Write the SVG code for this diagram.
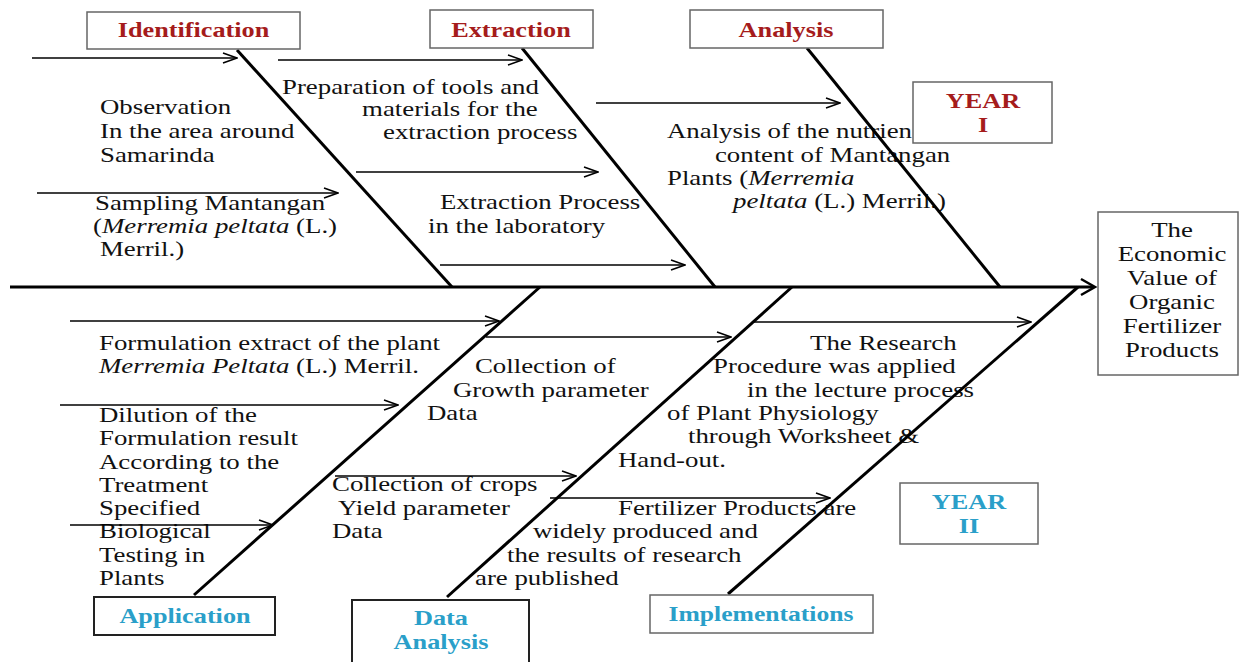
<svg xmlns="http://www.w3.org/2000/svg" width="1239" height="662" viewBox="0 0 1239 662">
<style>
.t{font-family:"Liberation Serif","Times New Roman",serif;font-size:22px;fill:#111}
.b{font-family:"Liberation Serif","Times New Roman",serif;font-size:21px;font-weight:bold;text-anchor:middle}
.red{fill:#a51c1c}
.blue{fill:#2a9fc9}
.c{text-anchor:middle}
.box{fill:#fff;stroke:#666;stroke-width:1.5}
.boxd{fill:#fff;stroke:#222;stroke-width:2}
.bone{stroke:#000;stroke-width:3;fill:none}
.sub{stroke:#000;stroke-width:1.6;fill:none;marker-end:url(#ah)}
</style>
<defs>
<marker id="ah" viewBox="0 -6 16 12" markerWidth="16" markerHeight="12" refX="15" refY="0" orient="auto" markerUnits="userSpaceOnUse">
<path d="M1,-5 L15,0 L1,5" fill="none" stroke="#000" stroke-width="1.6"/>
</marker>
</defs>
<rect width="1239" height="662" fill="#fff"/>

<g id="cause-texts">
<g id="observation"><text class="t" transform="translate(100,0) scale(1.22,1)"><tspan x="0" y="114">Observation</tspan><tspan x="0" y="138">In the area around</tspan><tspan x="0" y="162">Samarinda</tspan></text></g>
<g id="sampling"><text class="t" transform="translate(95,0) scale(1.22,1)"><tspan x="0" y="210">Sampling Mantangan</tspan><tspan x="-1.6" y="233">(<tspan font-style="italic">Merremia peltata</tspan> (L.)</tspan><tspan x="4.1" y="256">Merril.)</tspan></text></g>
<g id="preparation"><text class="t" transform="translate(282,0) scale(1.22,1)"><tspan x="0" y="94">Preparation of tools and</tspan><tspan x="65.6" y="116">materials for the</tspan><tspan x="82.8" y="139">extraction process</tspan></text></g>
<g id="extraction-process"><text class="t" transform="translate(428,0) scale(1.22,1)"><tspan x="9.8" y="209">Extraction Process</tspan><tspan x="0" y="233">in the laboratory</tspan></text></g>
<g id="analysis-nutrient"><text class="t" transform="translate(667,0) scale(1.22,1)"><tspan x="0" y="138">Analysis of the nutrien</tspan><tspan x="39.3" y="162">content of Mantangan</tspan><tspan x="0" y="185">Plants (<tspan font-style="italic">Merremia</tspan></tspan><tspan x="54.1" y="208"><tspan font-style="italic">peltata</tspan> (L.) Merril.)</tspan></text></g>
<g id="formulation"><text class="t" transform="translate(99,0) scale(1.22,1)"><tspan x="0" y="350">Formulation extract of the plant</tspan><tspan x="0" y="373"><tspan font-style="italic">Merremia Peltata</tspan> (L.) Merril.</tspan></text></g>
<g id="growth"><text class="t" transform="translate(427,0) scale(1.22,1)"><tspan x="39.3" y="373">Collection of</tspan><tspan x="21.3" y="397">Growth parameter</tspan><tspan x="0" y="420">Data</tspan></text></g>
<g id="dilution"><text class="t" transform="translate(99,0) scale(1.22,1)"><tspan x="0" y="422">Dilution of the</tspan><tspan x="0" y="445">Formulation result</tspan><tspan x="0" y="469">According to the</tspan><tspan x="0" y="492">Treatment</tspan><tspan x="0" y="515">Specified</tspan><tspan x="0" y="538">Biological</tspan><tspan x="0" y="562">Testing in</tspan><tspan x="0" y="585">Plants</tspan></text></g>
<g id="yield"><text class="t" transform="translate(332,0) scale(1.22,1)"><tspan x="0" y="491">Collection of crops</tspan><tspan x="4.9" y="515">Yield parameter</tspan><tspan x="0" y="538">Data</tspan></text></g>
<g id="research"><text class="t" transform="translate(618,0) scale(1.22,1)"><tspan x="157.4" y="350">The Research</tspan><tspan x="77.9" y="373">Procedure was applied</tspan><tspan x="105.7" y="397">in the lecture process</tspan><tspan x="40.2" y="420">of Plant Physiology</tspan><tspan x="57.4" y="443">through Worksheet &amp;</tspan><tspan x="0" y="467">Hand-out.</tspan></text></g>
<g id="products"><text class="t" transform="translate(475,0) scale(1.22,1)"><tspan x="117.2" y="515">Fertilizer Products are</tspan><tspan x="47.5" y="538">widely produced and</tspan><tspan x="26.2" y="562">the results of research</tspan><tspan x="0" y="585">are published</tspan></text></g>
</g>

<g id="connectors">
<path class="bone" d="M10,287 L1094,287"/>
<path d="M1081,279 L1095,287 L1081,295" fill="none" stroke="#000" stroke-width="2.5"/>
<path class="bone" d="M237,50 L452,287"/>
<path class="bone" d="M522,48 L715,287"/>
<path class="bone" d="M807,48 L1000,287"/>
<path class="bone" d="M194,595 L540,287"/>
<path class="bone" d="M447,597 L792,287"/>
<path class="bone" d="M728,594 L1078,287"/>
<path class="sub" d="M32,58 L237,58"/>
<path class="sub" d="M278,60 L522,60"/>
<path class="sub" d="M596,103 L840,103"/>
<path class="sub" d="M37,193 L338,193"/>
<path class="sub" d="M356,172 L598,172"/>
<path class="sub" d="M440,265 L685,265"/>
<path class="sub" d="M70,321 L499,321"/>
<path class="sub" d="M486,337 L731,337"/>
<path class="sub" d="M752,322 L1031,322"/>
<path class="sub" d="M60,405 L398,405"/>
<path class="sub" d="M335,476 L576,476"/>
<path class="sub" d="M70,525 L273,525"/>
<path class="sub" d="M550,498 L830,498"/>
</g>

<g id="identification"><rect class="box" x="87" y="12" width="213" height="37"/><text class="b red" transform="translate(193.5,37) scale(1.25,1)">Identification</text></g>
<g id="extraction"><rect class="box" x="430" y="10" width="163" height="38"/><text class="b red" transform="translate(511,37) scale(1.25,1)">Extraction</text></g>
<g id="analysis"><rect class="box" x="690" y="10" width="193" height="38"/><text class="b red" transform="translate(786,37) scale(1.25,1)">Analysis</text></g>
<g id="year1"><rect class="box" x="913" y="82" width="139" height="61"/><text class="b red" transform="translate(983,0) scale(1.25,1)"><tspan x="0" y="108">YEAR</tspan><tspan x="0" y="132">I</tspan></text></g>
<g id="outcome"><rect class="box" x="1098" y="212" width="140" height="163"/><text class="t c" transform="translate(1172,0) scale(1.22,1)"><tspan x="0" y="237">The</tspan><tspan x="0" y="261">Economic</tspan><tspan x="0" y="285">Value of</tspan><tspan x="0" y="309">Organic</tspan><tspan x="0" y="333">Fertilizer</tspan><tspan x="0" y="357">Products</tspan></text></g>
<g id="year2"><rect class="box" x="900" y="483" width="138" height="61"/><text class="b blue" transform="translate(969,0) scale(1.25,1)"><tspan x="0" y="509">YEAR</tspan><tspan x="0" y="533">II</tspan></text></g>
<g id="application"><rect class="boxd" x="94" y="597" width="181" height="38"/><text class="b blue" transform="translate(185,623) scale(1.25,1)">Application</text></g>
<g id="data-analysis"><rect class="boxd" x="352" y="600" width="177" height="72"/><text class="b blue" transform="translate(441,0) scale(1.25,1)"><tspan x="0" y="625">Data</tspan><tspan x="0" y="649">Analysis</tspan></text></g>
<g id="implementations"><rect class="box" x="650" y="595" width="223" height="38"/><text class="b blue" transform="translate(761,621) scale(1.22,1)">Implementations</text></g>
</svg>
